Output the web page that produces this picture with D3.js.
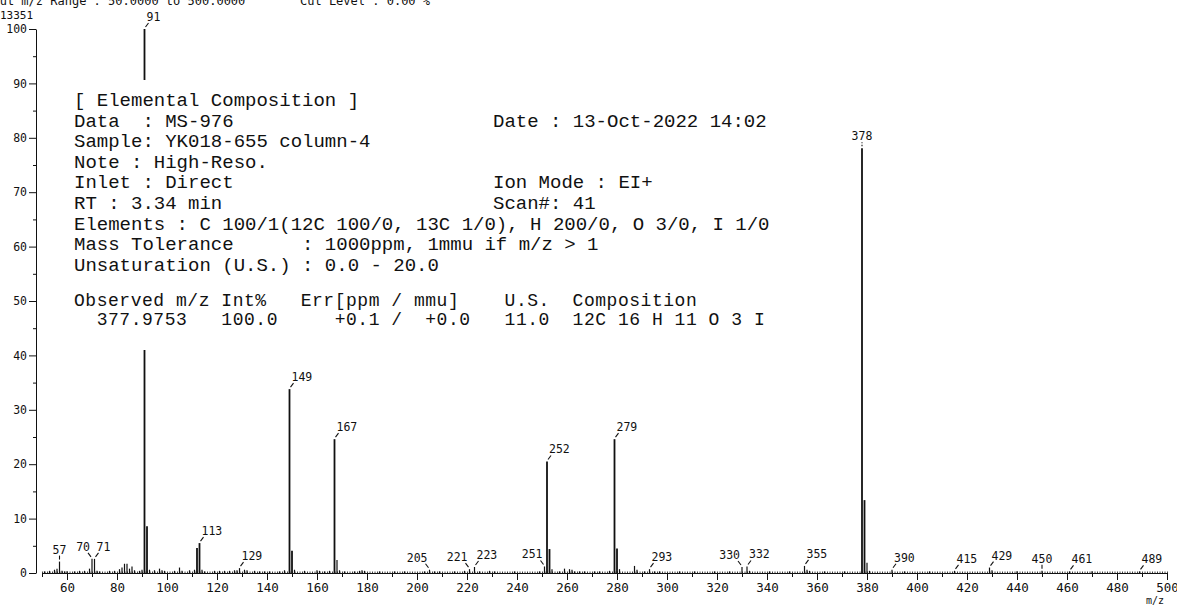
<!DOCTYPE html>
<html>
  <head>
    <meta charset="utf-8">
    <title>MS-976 spectrum</title>
    <script src="https://d3js.org/d3.v7.min.js"></script>
    <style>
      body { margin: 0; background: #fff; }
      svg { display: block; }
      .plot text { font-family: "DejaVu Sans Mono", monospace; fill: #111; }
      .info text { font-family: "Courier New", "Liberation Mono", monospace; font-size: 19px; fill: #111; white-space: pre; }
      .info text.result { font-size: 18px; letter-spacing: 0.53px; }
      .axis path, .axis line { stroke: #111; }
    </style>
  </head>
  <body>
    <svg id="chart" width="1177" height="606"></svg>
    <script>
      // peaks (m/z, relative intensity %)
      const peakMz = [51, 53, 55, 56, 57, 58, 59, 60, 63, 65, 67, 69, 70, 71, 72, 73, 77, 79, 81, 82, 83, 84, 85, 86, 87, 89, 90, 91, 92, 93, 95, 97, 98, 99, 103, 105, 106, 109, 111, 112, 113, 114, 115, 119, 121, 123, 125, 127, 128, 129, 131, 132, 135, 137, 139, 141, 145, 147, 149, 150, 151,
        155, 160, 161, 163, 165, 167, 168, 169, 171, 175, 177, 178, 179, 185, 191, 195, 203, 205, 207, 209, 215, 219, 221, 223, 225, 229, 231, 239, 249, 251, 252, 253, 254, 257, 259, 261, 262, 263, 265, 267, 271, 273, 277, 279, 280, 281, 287, 288, 291, 293, 295, 297,
        305, 311, 319, 325, 330, 332, 333, 341, 349, 355, 356, 357, 363, 371, 378, 379, 380, 381, 390, 395, 405, 415, 429, 430, 440, 450, 461, 470, 489];
      const peakInt = [0.3, 0.4, 0.6, 0.8, 2.1, 0.4, 0.3, 0.3, 0.3, 0.4, 0.4, 0.8, 2.6, 2.6, 0.4, 0.3, 0.4, 0.4, 0.7, 1.0, 1.7, 1.7, 0.8, 1.2, 0.5, 0.4, 0.6, 100, 8.6, 0.6, 0.5, 0.8, 0.5, 0.4, 0.4, 1.0, 0.4, 0.5, 0.6, 4.6, 5.5, 0.6, 0.3, 0.4, 0.4, 0.4, 0.4, 0.5, 0.5, 0.9, 0.6, 0.5, 0.4, 0.3, 0.3, 0.3, 0.3, 0.5, 33.8, 4.1, 0.6,
        0.4, 0.5, 0.4, 0.3, 0.4, 24.6, 2.4, 0.5, 0.3, 0.3, 0.4, 0.5, 0.4, 0.3, 0.3, 0.3, 0.3, 0.6, 0.3, 0.3, 0.3, 0.4, 0.7, 1.1, 0.3, 0.4, 0.3, 0.3, 0.3, 1.2, 20.5, 4.4, 0.7, 0.3, 0.8, 0.7, 0.6, 0.3, 0.3, 0.3, 0.3, 0.3, 0.4, 24.6, 4.5, 0.7, 1.3, 0.6, 0.3, 0.7, 0.3, 0.3,
        0.3, 0.3, 0.3, 0.3, 1.1, 1.2, 0.4, 0.3, 0.3, 1.3, 0.6, 0.4, 0.3, 0.3, 78.1, 13.4, 1.9, 0.4, 0.6, 0.3, 0.3, 0.4, 1.0, 0.5, 0.3, 0.4, 0.3, 0.3, 0.3];
      const labelledMz = [57, 70, 71, 91, 113, 129, 149, 167, 205, 221, 223, 251, 252, 279, 293, 330, 332, 355, 378, 390, 415, 429, 450, 461, 489];
      const xTickValues = d3.range(60, 501, 20);
      const yTickValues = d3.range(0, 101, 10);
      const headerText = ["Input m/z Range : 50.0000 to 500.0000", "Cut Level : 0.00 %"];
      const baseCount = "13351";
      const infoLeft = [
        "[ Elemental Composition ]",
        "Data  : MS-976",
        "Sample: YK018-655 column-4",
        "Note : High-Reso.",
        "Inlet : Direct",
        "RT : 3.34 min",
        "Elements : C 100/1(12C 100/0, 13C 1/0), H 200/0, O 3/0, I 1/0",
        "Mass Tolerance      : 1000ppm, 1mmu if m/z > 1",
        "Unsaturation (U.S.) : 0.0 - 20.0"
      ];
      const infoRight = ["", "Date : 13-Oct-2022 14:02", "", "", "Ion Mode : EI+", "Scan#: 41", "", "", ""];
      const resultRows = [
        "Observed m/z Int%   Err[ppm / mmu]    U.S.  Composition",
        "  377.9753   100.0     +0.1 /  +0.0   11.0  12C 16 H 11 O 3 I"
      ];

      // which way each peak label leans (layout only)
      const labelSide = { 57: "c", 70: "l", 205: "l", 221: "l", 251: "l", 330: "l", 378: "c", 450: "c" };

      const peaks = peakMz.map(function(d, i) { return { mz: d, int: peakInt[i] }; });

      const svg = d3.select("#chart");
      const x = d3.scaleLinear().domain([50, 500]).range([42, 1167]);
      const y = d3.scaleLinear().domain([0, 100]).range([573, 29]);

      const plot = svg.append("g").classed("plot", true);

      // header, partly cut off at the top of the page
      plot.append("text").attr("x", -22).attr("y", 4.5).style("font-size", "12px").text(headerText[0]);
      plot.append("text").attr("x", 300).attr("y", 4.5).style("font-size", "12px").text(headerText[1]);
      plot.append("text").attr("x", 0).attr("y", 19).style("font-size", "11px").text(baseCount);

      // axes
      const yAxis = d3.axisLeft(y).tickValues(yTickValues).tickSize(7).tickSizeOuter(0).tickPadding(2);
      const yMinor = d3.axisLeft(y).tickValues(d3.range(5, 100, 10)).tickSize(3).tickSizeOuter(0).tickFormat("");
      plot.append("g").classed("axis", true).attr("transform", "translate(36,0)").call(yAxis)
        .call(function(g) { g.selectAll("text").style("font-size", "11.5px").style("font-family", "DejaVu Sans Mono"); });
      plot.append("g").classed("axis", true).attr("transform", "translate(36,0)").call(yMinor)
        .call(function(g) { g.select(".domain").remove(); });

      const xAxis = d3.axisBottom(x).tickValues(xTickValues).tickSize(7).tickSizeOuter(0).tickPadding(3);
      const xMinor = d3.axisBottom(x).tickValues(d3.range(50, 500, 20)).tickSize(4).tickFormat("");
      const xComb = d3.axisBottom(x).tickValues(d3.range(50, 501, 1)).tickSize(-1.5).tickFormat("");
      plot.append("g").classed("axis", true).attr("transform", "translate(0,573)").call(xAxis)
        .call(function(g) { g.selectAll("text").style("font-size", "12.5px").style("font-family", "DejaVu Sans Mono"); });
      plot.append("g").classed("axis", true).attr("transform", "translate(0,573)").call(xMinor)
        .call(function(g) { g.select(".domain").remove(); });
      plot.append("g").classed("axis", true).attr("transform", "translate(0,573)").call(xComb)
        .call(function(g) { g.select(".domain").remove(); g.selectAll("line").attr("stroke-width", 0.8); });
      plot.append("text").attr("x", 1155).attr("y", 604).attr("text-anchor", "middle").style("font-size", "10px").text("m/z");

      // peaks
      plot.append("g").selectAll("line.peak")
        .data(peaks)
        .enter().append("line")
          .classed("peak", true)
          .attr("x1", function(d) { return x(d.mz); })
          .attr("x2", function(d) { return x(d.mz); })
          .attr("y1", y(0))
          .attr("y2", function(d) { return y(d.int); })
          .attr("stroke", "#111")
          .attr("stroke-width", function(d) { return d.int > 3 ? 1.8 : 1.2; });

      // peak labels with little leader ticks
      const labelled = peaks.filter(function(d) { return labelledMz.indexOf(d.mz) > -1; });
      const lab = plot.append("g").selectAll("g.lab")
        .data(labelled)
        .enter().append("g")
          .classed("lab", true);
      lab.append("line")
        .attr("x1", function(d) { const s = labelSide[d.mz] || "r"; return x(d.mz) + (s === "r" ? 1 : s === "l" ? -1 : 0); })
        .attr("x2", function(d) { const s = labelSide[d.mz] || "r"; return x(d.mz) + (s === "r" ? 4 : s === "l" ? -4 : 0); })
        .attr("y1", function(d) { return y(d.int) - 2; })
        .attr("y2", function(d) { return y(d.int) - 6; })
        .attr("stroke", "#111")
        .attr("stroke-width", 1.1)
        .attr("stroke-dasharray", function(d) { return d.mz === 378 ? "1.5,1.5" : null; });
      lab.append("text")
        .attr("x", function(d) { const s = labelSide[d.mz] || "r"; return x(d.mz) + (s === "r" ? 2 : s === "l" ? -2 : 0); })
        .attr("y", function(d) { return y(d.int) - 8; })
        .attr("text-anchor", function(d) { const s = labelSide[d.mz] || "r"; return s === "r" ? "start" : s === "l" ? "end" : "middle"; })
        .style("font-size", "11.5px")
        .text(function(d) { return d.mz; });

      // elemental composition block, printed over the spectrum
      const info = svg.append("g").classed("info", true);
      info.append("rect").attr("x", 58).attr("y", 80).attr("width", 724).attr("height", 270).attr("fill", "#fff");
      info.selectAll("text.left")
        .data(infoLeft)
        .enter().append("text")
          .classed("left", true)
          .attr("x", 74)
          .attr("y", function(d, i) { return 106 + i * 20.6; })
          .text(function(d) { return d; });
      info.selectAll("text.right")
        .data(infoRight)
        .enter().append("text")
          .classed("right", true)
          .attr("x", 493)
          .attr("y", function(d, i) { return 106 + i * 20.6; })
          .text(function(d) { return d; });
      info.selectAll("text.result")
        .data(resultRows)
        .enter().append("text")
          .classed("result", true)
          .attr("x", 74)
          .attr("y", function(d, i) { return 306 + i * 19; })
          .text(function(d) { return d; });
    </script>
  </body>
</html>
